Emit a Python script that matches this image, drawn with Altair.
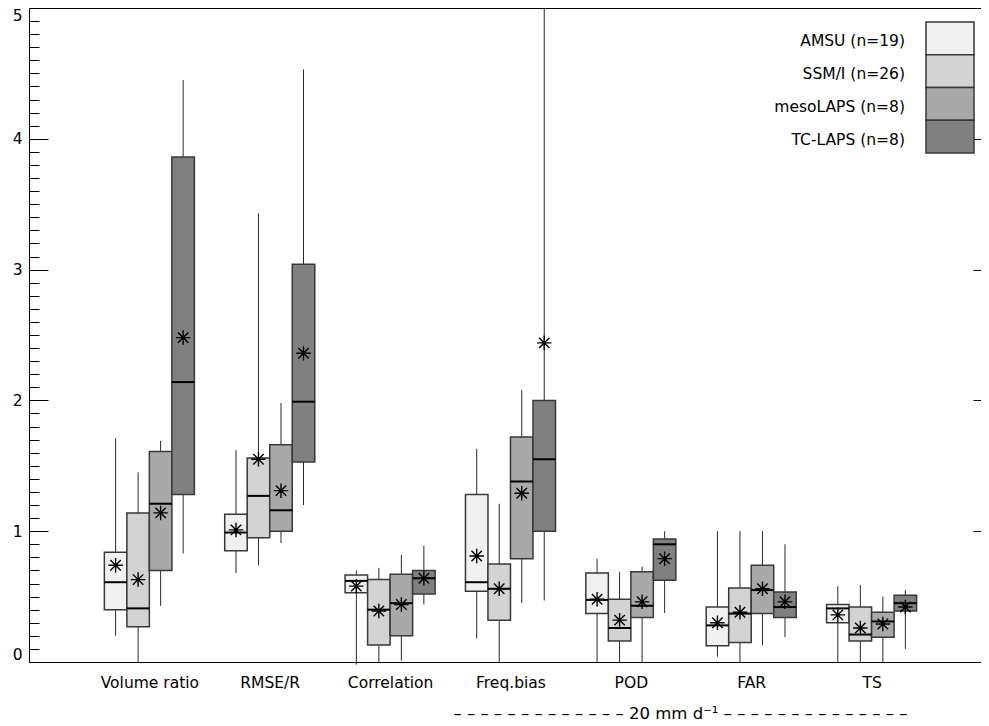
import json
import altair as alt
import pandas as pd

FONT = "DejaVu Sans"
FS = 15.5

categories = ["Volume ratio", "RMSE/R", "Correlation", "Freq.bias", "POD", "FAR", "TS"]
groups = ["AMSU", "SSM/I", "mesoLAPS", "TC-LAPS"]
counts = [19, 26, 8, 8]
colors = ["#f0f0f0", "#d3d3d3", "#a9a9a9", "#808080"]

# values per group, one entry per category (order of `categories`)
whisker_low = {
    "AMSU":     [0.20, 0.68, -0.02, 0.18, 0.00, 0.04, 0.00],
    "SSM/I":    [0.00, 0.74, 0.00, 0.00, 0.00, 0.00, 0.00],
    "mesoLAPS": [0.43, 0.91, 0.01, 0.45, 0.00, 0.13, 0.00],
    "TC-LAPS":  [0.83, 1.20, 0.44, 0.47, 0.375, 0.19, 0.10],
}
quart1 = {
    "AMSU":     [0.40, 0.85, 0.53, 0.54, 0.37, 0.125, 0.30],
    "SSM/I":    [0.27, 0.95, 0.13, 0.32, 0.16, 0.15, 0.16],
    "mesoLAPS": [0.70, 1.00, 0.20, 0.79, 0.34, 0.37, 0.19],
    "TC-LAPS":  [1.28, 1.53, 0.52, 1.00, 0.625, 0.34, 0.39],
}
median = {
    "AMSU":     [0.61, 0.99, 0.62, 0.61, 0.475, 0.28, 0.41],
    "SSM/I":    [0.41, 1.27, 0.40, 0.56, 0.26, 0.37, 0.21],
    "mesoLAPS": [1.21, 1.16, 0.45, 1.38, 0.43, 0.55, 0.31],
    "TC-LAPS":  [2.14, 1.99, 0.64, 1.55, 0.90, 0.42, 0.45],
}
quart3 = {
    "AMSU":     [0.84, 1.13, 0.665, 1.28, 0.68, 0.42, 0.44],
    "SSM/I":    [1.14, 1.56, 0.63, 0.75, 0.48, 0.565, 0.42],
    "mesoLAPS": [1.61, 1.66, 0.67, 1.72, 0.69, 0.74, 0.38],
    "TC-LAPS":  [3.86, 3.04, 0.70, 2.00, 0.94, 0.535, 0.51],
}
whisker_high = {
    "AMSU":     [1.71, 1.62, 0.70, 1.63, 0.79, 1.00, 0.58],
    "SSM/I":    [1.45, 3.43, 0.72, 1.21, 0.69, 1.00, 0.59],
    "mesoLAPS": [1.69, 1.98, 0.82, 2.08, 0.73, 1.00, 0.50],
    "TC-LAPS":  [4.45, 4.53, 0.89, 5.00, 1.00, 0.90, 0.55],
}
mean = {
    "AMSU":     [0.74, 1.01, 0.58, 0.81, 0.48, 0.30, 0.36],
    "SSM/I":    [0.63, 1.55, 0.39, 0.56, 0.32, 0.38, 0.26],
    "mesoLAPS": [1.14, 1.31, 0.44, 1.29, 0.46, 0.56, 0.29],
    "TC-LAPS":  [2.48, 2.36, 0.64, 2.44, 0.79, 0.46, 0.42],
}

y_major = [0, 1, 2, 3, 4, 5]
y_minor = [round(i * 0.1, 1) for i in range(50)]
bottom_title = ("\u2013 " * 13) + "20 mm d\u207b\u00b9" + (" \u2013" * 14)

legend_labels = [f"{g} (n={n})" for g, n in zip(groups, counts)]

BW = 0.187  # box width in x units
rows = []
for gi, g in enumerate(groups):
    for ci, c in enumerate(categories):
        pos = ci + 1
        left = pos + (gi - 2) * BW
        rows.append({
            "cat": c, "group": legend_labels[gi],
            "xl": left, "xr": left + BW, "xc": left + BW / 2,
            "wlo": whisker_low[g][ci], "q1": quart1[g][ci], "med": median[g][ci],
            "q3": quart3[g][ci], "whi": whisker_high[g][ci], "mean": mean[g][ci],
        })
df = pd.DataFrame(rows)
legend_df = pd.DataFrame({"group": legend_labels})

W, H = 952, 654
xscale = alt.Scale(domain=[0, 7.909], nice=False, zero=False)
yscale = alt.Scale(domain=[0, 5], nice=False, zero=False)
fill_scale = alt.Scale(domain=legend_labels, range=colors)

is_major = "abs(datum.value - round(datum.value)) < 0.001"

x_axis = alt.Axis(
    values=[1, 2, 3, 4, 5, 6, 7],
    labelExpr=f"{json.dumps(categories)}[datum.value - 1]",
    ticks=False, tickSize=0, domain=True, domainColor="black", domainWidth=1,
    grid=False, labelAngle=0, labelPadding=13, labelFont=FONT, labelFontSize=FS,
    labelColor="black", labelFlush=False,
    title=bottom_title, titleX=651, titleY=51, titleAlign="center",
    titleBaseline="middle", titleFont=FONT, titleFontSize=16.5,
    titleFontWeight="normal", titleColor="black",
)

y_labels_axis = alt.Axis(
    orient="left", values=y_major, format="d", ticks=False, tickSize=0,
    domain=True, domainColor="black", domainWidth=1, grid=False,
    labelPadding=7, labelFont=FONT, labelFontSize=FS, labelColor="black",
    labelFlush=True, title=None,
)
# inward ticks along the left edge
y_ticks_left = alt.Axis(
    orient="right", offset=-W, values=y_minor, labels=False, domain=False,
    grid=False, ticks=True, tickColor="black", tickWidth=1,
    tickSize={"condition": {"test": is_major, "value": 19}, "value": 10},
    title=None,
)
# inward ticks along the right edge; the tick at 5 forms the top frame line
y_ticks_right = alt.Axis(
    orient="left", offset=-W, values=y_major, labels=False, domain=False,
    grid=False, ticks=True, tickColor="black", tickWidth=1,
    tickSize={"condition": {"test": "datum.value == 5", "value": W}, "value": 8},
    title=None,
)

base = alt.Chart(df)

whiskers = base.mark_rule(color="#2a2a2a", strokeWidth=1).encode(
    x=alt.X("xc:Q", scale=xscale, axis=x_axis),
    y=alt.Y("wlo:Q", scale=yscale, axis=y_ticks_left),
    y2="whi:Q",
)

boxes = base.mark_rect(stroke="#383838", strokeWidth=1.5).encode(
    x=alt.X("xl:Q", scale=xscale, axis=x_axis),
    x2="xr:Q",
    y=alt.Y("q1:Q", scale=yscale, axis=y_labels_axis),
    y2="q3:Q",
    fill=alt.Fill("group:N", scale=fill_scale, legend=None),
)

medians = base.mark_rule(color="black", strokeWidth=2).encode(
    x=alt.X("xl:Q", scale=xscale, axis=x_axis),
    x2="xr:Q",
    y=alt.Y("med:Q", scale=yscale, axis=y_ticks_right),
)

star = "M-1,0H1M0,-1V1M-0.72,-0.72L0.72,0.72M-0.72,0.72L0.72,-0.72"
means = base.mark_point(shape=star, filled=False, color="black", strokeWidth=1.4,
                        size=210, opacity=1).encode(
    x=alt.X("xc:Q", scale=xscale, axis=x_axis),
    y=alt.Y("mean:Q", scale=yscale, axis=None),
)

# legend block (top right, labels left of the swatches)
leg_y = alt.Y("group:N", sort=legend_labels, axis=None,
              scale=alt.Scale(domain=legend_labels, range=[14, 145],
                              paddingInner=0, paddingOuter=0))
legend_boxes = alt.Chart(legend_df).mark_rect(
    stroke="#383838", strokeWidth=1.5
).encode(
    x=alt.value(897), x2=alt.value(945),
    y=leg_y,
    fill=alt.Fill("group:N", scale=fill_scale, legend=None),
)
legend_text = alt.Chart(legend_df).mark_text(
    align="right", baseline="middle", dy=3, font=FONT, fontSize=FS, color="black"
).encode(
    x=alt.value(876),
    y=leg_y,
    text="group:N",
)

chart = (
    alt.layer(whiskers, boxes, medians, means, legend_boxes, legend_text)
    .resolve_scale(y="independent", x="shared")
    .resolve_axis(y="independent")
    .properties(
        width=W, height=H,
        autosize=alt.AutoSizeParams(type="none"),
        padding={"left": 21, "top": 0, "right": 0, "bottom": 60},
        background="white",
    )
    .configure_view(stroke=None)
)

chart.save("out.html", embed_options={"renderer": "svg", "actions": False})
